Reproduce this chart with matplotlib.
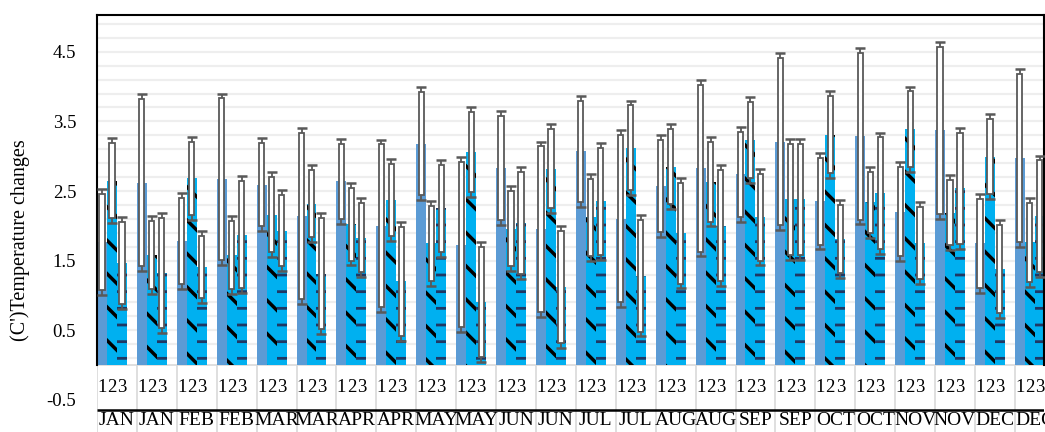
import numpy as np
import matplotlib
matplotlib.use("Agg")
import matplotlib.pyplot as plt

plt.rcParams['font.family'] = ['Liberation Serif', 'DejaVu Serif']
plt.rcParams['hatch.linewidth'] = 2.5

# categories (two blocks per month) and the three sub-series labels
months = ["JAN", "JAN", "FEB", "FEB", "MAR", "MAR", "APR", "APR",
          "MAY", "MAY", "JUN", "JUN", "JUL", "JUL", "AUG", "AUG",
          "SEP", "SEP", "OCT", "OCT", "NOV", "NOV", "DEC", "DEC"]
sub_labels = ["1", "2", "3"]
ytick_vals = [-0.5, 0.5, 1.5, 2.5, 3.5, 4.5]

# series 1 (solid), 2 (diagonal dash), 3 (horizontal dash) with +/- errors
s1 = [1.77, 2.62, 1.78, 2.67, 2.59, 2.14, 2.64, 2.00, 3.18, 1.73, 2.83, 1.95,
      3.07, 2.10, 2.57, 2.83, 2.74, 3.21, 2.35, 3.29, 2.20, 3.37, 1.75, 2.97]
e1 = [0.76, 1.27, 0.69, 1.23, 0.67, 1.26, 0.61, 1.24, 0.81, 1.26, 0.82, 1.26,
      0.80, 1.27, 0.73, 1.27, 0.68, 1.27, 0.69, 1.27, 0.71, 1.27, 0.71, 1.28]
s2 = [2.65, 1.58, 2.68, 1.58, 2.16, 2.32, 2.02, 2.37, 1.75, 3.06, 1.96, 2.82,
      2.12, 3.12, 2.85, 2.63, 3.23, 2.38, 3.31, 2.34, 3.39, 2.19, 2.99, 1.76]
e2 = [0.61, 0.56, 0.59, 0.56, 0.61, 0.55, 0.59, 0.59, 0.61, 0.64, 0.61, 0.64,
      0.62, 0.68, 0.61, 0.64, 0.62, 0.87, 0.62, 0.51, 0.61, 0.54, 0.61, 0.64]
s3 = [1.46, 1.32, 1.41, 1.87, 1.93, 1.31, 1.83, 1.20, 2.25, 0.91, 2.04, 1.12,
      2.35, 1.28, 1.89, 2.00, 2.12, 2.38, 1.81, 2.47, 1.75, 2.54, 1.38, 2.14]
e3 = [0.66, 0.86, 0.52, 0.84, 0.58, 0.87, 0.57, 0.85, 0.70, 0.86, 0.80, 0.87,
      0.84, 0.87, 0.79, 0.87, 0.69, 0.87, 0.56, 0.87, 0.59, 0.87, 0.70, 0.87]

fig = plt.figure(figsize=(10.45, 4.32), dpi=100)
ax = fig.add_axes([97 / 1045, 0, 947 / 1045, 417 / 432])
XMAX = 23.73
YMIN, YMAX = -0.963, 5.029
ax.set_xlim(0, XMAX)
ax.set_ylim(YMIN, YMAX)

x = np.arange(len(months))
bw = 0.25

# light horizontal grid inside the plot area only
ax.hlines(np.arange(0.1, 5.0, 0.2), 0, XMAX, color='#EEEEEE', lw=1.6, zorder=0)

ax.bar(x + 0.5 * bw, s1, bw, color='#5B9BD5', linewidth=0, zorder=2)
b2 = ax.bar(x + 1.5 * bw, s2, bw, color='#00B0F0', edgecolor='black',
            linewidth=0, hatch='\\', zorder=2)
b3 = ax.bar(x + 2.5 * bw, s3, bw, color='#00B0F0', edgecolor='#1F3864',
            linewidth=0, hatch='-', zorder=2)
for p in b3:
    if hasattr(p, 'set_hatch_linewidth'):
        p.set_hatch_linewidth(2.0)

# error bars: thin stem with caps, plus a hollow box along the stem
gap = 0.07
for off, vals, errs in [(0.5, s1, e1), (1.5, s2, e2), (2.5, s3, e3)]:
    xs = x + off * bw
    vals = np.array(vals)
    errs = np.array(errs)
    ax.errorbar(xs, vals, yerr=errs, fmt='none', ecolor='#595959',
                elinewidth=1.3, capsize=3.8, capthick=1.8, zorder=4)
    ax.bar(xs, 2 * errs - 2 * gap, 0.13, bottom=vals - errs + gap,
           color='white', edgecolor='#595959', linewidth=1.3, zorder=5)

# category table under the bars
ax.hlines(0, 0, XMAX, color='#D9D9D9', lw=1.2, zorder=1)
ax.vlines(x, YMIN, 0, color='#D9D9D9', lw=1.2, zorder=1)
ax.hlines(-0.647, 0, XMAX, color='black', lw=1.8, zorder=3)
for i, m in enumerate(months):
    for j, lab in enumerate(sub_labels):
        ax.text(i + (j + 0.5) * bw, -0.32, lab, ha='center', va='center',
                fontsize=13.5)
    ax.text(i + 0.5, -0.80, m, ha='center', va='center', fontsize=14)

for side in ['bottom']:
    ax.spines[side].set_visible(False)
for side in ['left', 'right', 'top']:
    ax.spines[side].set_color('black')
    ax.spines[side].set_linewidth(1.5)
ax.spines['left'].set_bounds(0, YMAX)
ax.spines['right'].set_bounds(0, YMAX)

ax.set_yticks(ytick_vals)
ax.set_yticklabels([f"{v:.1f}" for v in ytick_vals])
ax.set_xticks([])
ax.tick_params(axis='y', length=0, pad=15, labelsize=13.5)

fig.text(20 / 1045, 1 - 240 / 432, "(C')Temperature changes", rotation=90,
         ha='center', va='center', fontsize=14.5)

fig.savefig("out.png", dpi=100)
